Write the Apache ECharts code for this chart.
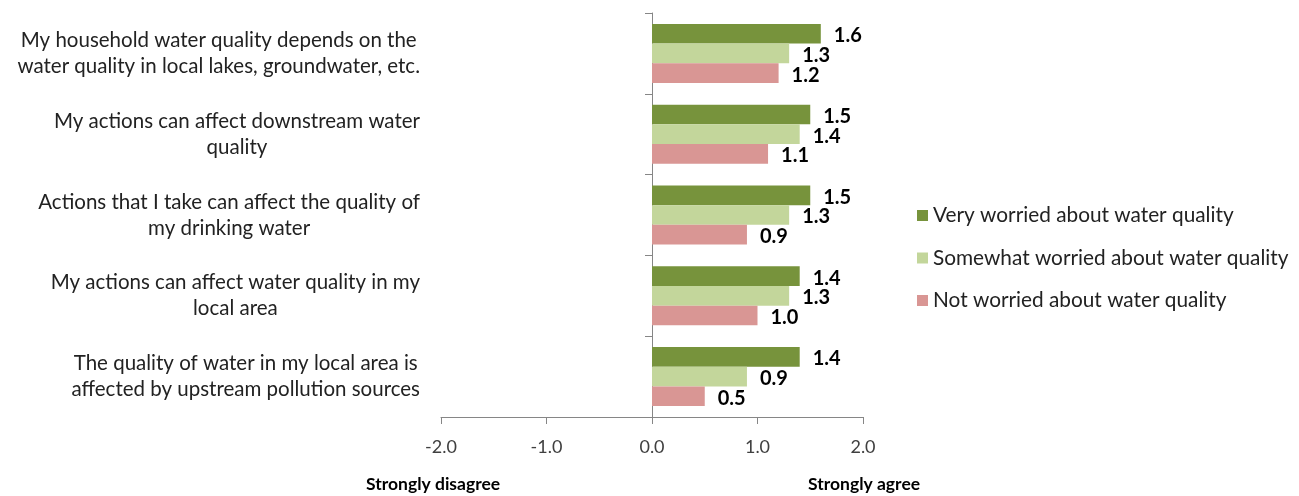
<!DOCTYPE html>
<html><head><meta charset="utf-8">
<script src="https://cdn.jsdelivr.net/npm/echarts@6/dist/echarts.min.js"></script>
<style>html,body{margin:0;padding:0;background:#fff}#c{width:1299px;height:496px}</style>
</head><body><div id="c"></div>
<script>
const categories = [
  "My household water quality depends on the\nwater quality in local lakes, groundwater, etc.",
  "My actions can affect downstream water\nquality",
  "Actions that I take can affect the quality of\nmy drinking water",
  "My actions can affect water quality in my\nlocal area",
  "The quality of water in my local area is\naffected by upstream pollution sources"
];
const seriesNames = ["Very worried about water quality", "Somewhat worried about water quality", "Not worried about water quality"];
const veryWorried = [1.6, 1.5, 1.5, 1.4, 1.4];
const somewhatWorried = [1.3, 1.4, 1.3, 1.3, 0.9];
const notWorried = [1.2, 1.1, 0.9, 1.0, 0.5];
const xTicks = [-2, -1, 0, 1, 2];
const axisEnds = ["Strongly disagree", "Strongly agree"];

const colors = ["#77933C", "#C3D69B", "#D99694"];
const FONT = "Lato";
const chart = echarts.init(document.getElementById('c'), null, {renderer: 'canvas'});
function mk(name, data, i) {
  return {
    name: name, type: 'bar', data: data,
    barGap: '0%', barCategoryGap: '27%',
    itemStyle: {color: colors[i]},
    label: {show: true, position: 'right', distance: 13, offset: [0, 2],
      formatter: p => p.value.toFixed(1),
      fontFamily: FONT, fontWeight: 'bold', fontSize: 20, color: '#000'}
  };
}
chart.setOption({
  animation: false,
  title: [
    {text: axisEnds[0], left: 361, top: 470, textStyle: {fontFamily: FONT, fontWeight: 'bold', fontSize: 17.5, color: '#000'}},
    {text: axisEnds[1], left: 803, top: 470, textStyle: {fontFamily: FONT, fontWeight: 'bold', fontSize: 17.5, color: '#000'}}
  ],
  grid: {left: 441, width: 422, top: 13, height: 404, containLabel: false, outerBoundsMode: 'none'},
  legend: {
    orient: 'vertical', left: 912, top: 200, icon: 'rect', itemWidth: 11, itemHeight: 11,
    itemGap: 21.5, data: seriesNames,
    textStyle: {fontFamily: FONT, fontSize: 20.8, color: '#222'}
  },
  xAxis: {
    type: 'value', min: -2, max: 2, interval: 1,
    axisLine: {show: true, lineStyle: {color: '#868686', width: 1}},
    axisTick: {show: true, length: 7, lineStyle: {color: '#868686'}},
    splitLine: {show: false},
    axisLabel: {margin: 21, fontFamily: FONT, fontSize: 18, color: '#404040',
      formatter: v => xTicks.includes(v) ? v.toFixed(1) : ''}
  },
  yAxis: {
    type: 'category', inverse: true, data: categories,
    axisLine: {show: true, onZero: true, lineStyle: {color: '#868686', width: 1}},
    axisTick: {show: true, length: 7, alignWithLabel: false, lineStyle: {color: '#868686'}},
    axisLabel: {
      margin: 21, align: 'right', fontFamily: FONT, fontSize: 20.5, color: '#222', lineHeight: 26,
      formatter: v => v.split('\n').map(l => '{c|' + l + '}').join('\n'),
      rich: {c: {align: 'center', fontFamily: FONT, fontSize: 20.5, color: '#222', lineHeight: 26}}
    }
  },
  series: [mk(seriesNames[0], veryWorried, 0), mk(seriesNames[1], somewhatWorried, 1), mk(seriesNames[2], notWorried, 2)]
});
</script></body></html>
